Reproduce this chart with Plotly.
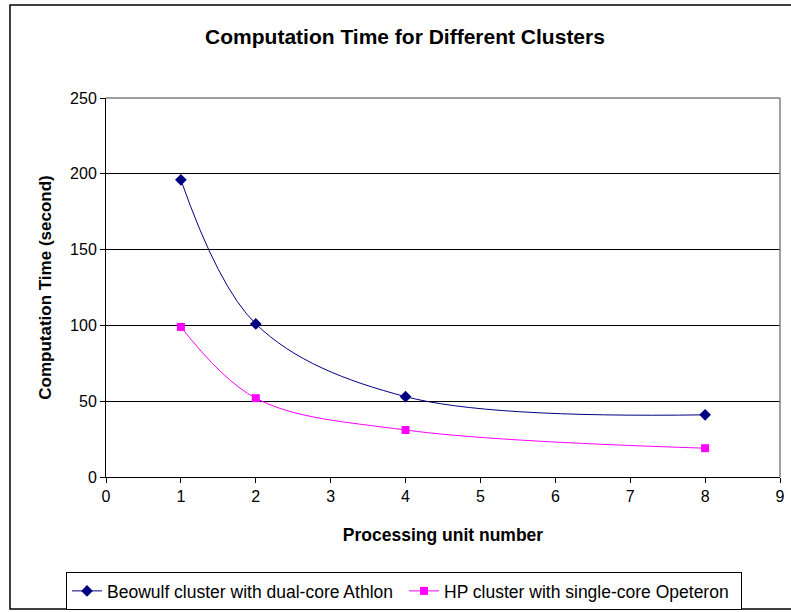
import plotly.graph_objects as go

units = [1, 2, 4, 8]
beowulf = [196, 101, 53, 41]
hp = [99, 52, 31, 19]
names = ["Beowulf cluster with dual-core Athlon", "HP cluster with single-core Opeteron"]

L, R, T, B = 106, 11, 98, 135
W, H = 791, 612
pw, ph = W - L - R, H - T - B

fig = go.Figure()
fig.add_trace(go.Scatter(x=units, y=beowulf, name=names[0], mode="lines+markers",
                         line=dict(color="#000080", width=1, shape="spline", smoothing=1.0),
                         marker=dict(symbol="diamond", size=9, color="#000080")))
fig.add_trace(go.Scatter(x=units, y=hp, name=names[1], mode="lines+markers",
                         line=dict(color="#FF00FF", width=1, shape="spline", smoothing=1.0),
                         marker=dict(symbol="square", size=8, color="#FF00FF")))

font_main = "Liberation Sans, Arial"
fig.update_layout(
    width=W, height=H,
    margin=dict(l=L, r=R, t=T, b=B, autoexpand=False),
    paper_bgcolor="white", plot_bgcolor="white",
    font=dict(family=font_main, size=16, color="black"),
    title=dict(text="<b>Computation Time for Different Clusters</b>",
               font=dict(family=font_main, size=21, color="black"),
               x=405 / W, xanchor="center", y=1 - 37 / H, yanchor="middle"),
    xaxis=dict(range=[0, 9], dtick=1, tick0=0, showgrid=False, zeroline=False,
               showline=True, linecolor="black", linewidth=1, automargin=False,
               ticks="outside", ticklen=5, tickcolor="black",
               tickfont=dict(family=font_main, size=16),
               title=dict(text="<b>Processing unit number</b>", font=dict(size=17.5), standoff=24)),
    yaxis=dict(range=[0, 250], dtick=50, showgrid=True, gridcolor="black", gridwidth=1,
               zeroline=False, showline=True, linecolor="black", linewidth=1, automargin=False,
               ticks="outside", ticklen=5, tickcolor="black",
               tickfont=dict(family=font_main, size=16),
               title=dict(text="<b>Computation Time (second)</b>", font=dict(size=17), standoff=14)),
    legend=dict(orientation="h", x=(404 - L) / pw, xanchor="center",
                y=-(572 - (H - B)) / ph, yanchor="top",
                bordercolor="black", borderwidth=1, bgcolor="white",
                font=dict(family=font_main, size=17.5),
                entrywidth=292, entrywidthmode="pixels", tracegroupgap=0),
    showlegend=True,
)

# plot area top and right border (grey)
fig.add_shape(type="line", xref="paper", yref="paper", x0=0, x1=1, y0=1, y1=1,
              line=dict(color="#808080", width=1.5))
fig.add_shape(type="line", xref="paper", yref="paper", x0=1, x1=1, y0=0, y1=1,
              line=dict(color="#808080", width=1.5))
# outer chart frame
fig.add_shape(type="rect", xref="paper", yref="paper",
              x0=(10 - L) / pw, x1=(795 - L) / pw,
              y0=-(609 - (H - B)) / ph, y1=1 + (T - 5) / ph,
              line=dict(color="black", width=1.5), layer="below")

fig.write_html("out.html")
